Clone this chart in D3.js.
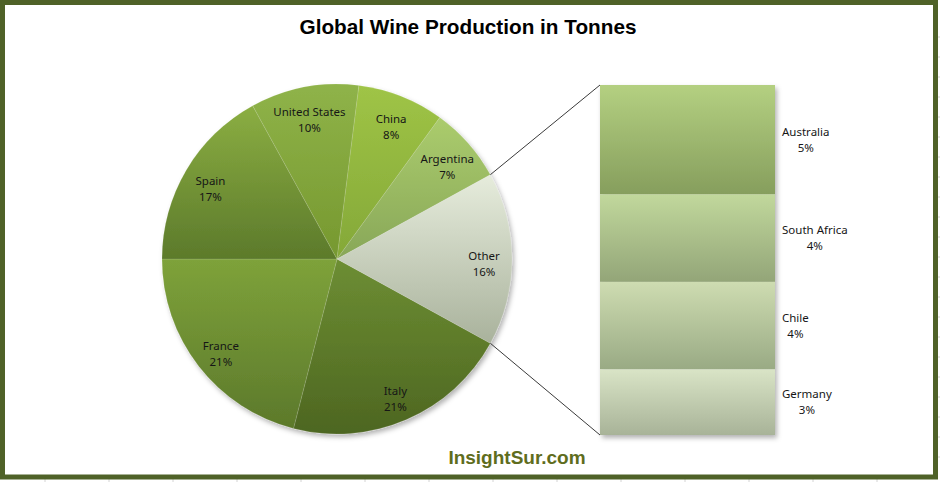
<!DOCTYPE html>
<html>
<head>
<meta charset="utf-8">
<script src="https://cdn.jsdelivr.net/npm/d3@7/dist/d3.min.js"></script>
<style>
    body { margin: 0; background: #fff; }
    svg { display: block; }
    .lbl { font-family: "Noto Sans", "Liberation Sans", sans-serif; font-size: 11.5px; fill: #161616; }
</style>
</head>
<body>
<svg id="chart" width="940" height="482"></svg>
<script>
// pie slices, clockwise starting after "Other"
const pieNames = ['Italy', 'France', 'Spain', 'United States', 'China', 'Argentina', 'Other'];
const pieValues = [21, 21, 17, 10, 8, 7, 16];

// breakdown of "Other" (stacked bar, top to bottom)
const otherNames = ['Australia', 'South Africa', 'Chile', 'Germany'];
const otherValues = [5, 4, 4, 3];

const titleText = 'Global Wine Production in Tonnes';
const footerText = 'InsightSur.com';

// top / bottom colours of each gradient
const sliceColors = {
    'Italy': ['#6d8e33', '#4d6621'],
    'France': ['#7ea23a', '#5c792b'],
    'Spain': ['#8bae42', '#5c7a2b'],
    'United States': ['#8fb349', '#76982f'],
    'China': ['#9fc446', '#84a838'],
    'Argentina': ['#abcc6d', '#88a758'],
    'Other': ['#e6ecdc', '#a9b29c']
};
const barColors = {
    'Australia': ['#b4d081', '#869e5d'],
    'South Africa': ['#c1d89c', '#93a578'],
    'Chile': ['#cedcb1', '#99aa84'],
    'Germany': ['#d9e4c6', '#a8b398']
};

const width = 940, height = 482;
const frameColor = '#4f6228';

const svg = d3.select('#chart');
const defs = svg.append('defs');

function addGradient(id, colors) {
    const g = defs.append('linearGradient')
        .attr('id', id)
        .attr('x1', 0).attr('y1', 0)
        .attr('x2', 0).attr('y2', 1);
    g.append('stop').attr('offset', '0%').attr('stop-color', colors[0]);
    g.append('stop').attr('offset', '100%').attr('stop-color', colors[1]);
}

const shadow = defs.append('filter').attr('id', 'shadow')
    .attr('x', '-10%').attr('y', '-10%').attr('width', '125%').attr('height', '125%');
shadow.append('feDropShadow')
    .attr('dx', 2).attr('dy', 3).attr('stdDeviation', 2.5)
    .attr('flood-color', '#000').attr('flood-opacity', 0.3);

svg.append('rect').attr('width', width).attr('height', height).attr('fill', '#fff');

// faint sheet gridline stubs outside the frame
const gridX = d3.range(45, width, 64);
const gridY = d3.range(37, 470, 20);
svg.append('g').selectAll('line').data(gridX).enter().append('line')
    .attr('x1', d => d).attr('x2', d => d)
    .attr('y1', 479).attr('y2', height)
    .attr('stroke', '#d4d4d4');
svg.append('g').selectAll('line').data(gridY).enter().append('line')
    .attr('x1', 938).attr('x2', width)
    .attr('y1', d => d).attr('y2', d => d)
    .attr('stroke', '#d4d4d4');

svg.append('rect')
    .attr('x', 2.5).attr('y', 2.5)
    .attr('width', 933).attr('height', 474.5)
    .attr('fill', '#fff')
    .attr('stroke', frameColor)
    .attr('stroke-width', 5);

svg.append('text')
    .attr('x', 468).attr('y', 34)
    .attr('text-anchor', 'middle')
    .attr('textLength', 337)
    .attr('lengthAdjust', 'spacingAndGlyphs')
    .style('font-family', '"Liberation Sans", Arial, sans-serif')
    .style('font-weight', 'bold')
    .style('font-size', '21px')
    .attr('fill', '#000')
    .text(titleText);

// ---- pie ----
const cx = 337, cy = 259, radius = 175;
const otherIdx = pieNames.indexOf('Other');
const total = d3.sum(pieValues);
const otherSpan = pieValues[otherIdx] / total * 2 * Math.PI;
// place "Other" centred on 3 o'clock; it is the last slice
const startAngle = Math.PI / 2 + otherSpan / 2;

const pie = d3.pie().sort(null).value(d => d)
    .startAngle(startAngle).endAngle(startAngle + 2 * Math.PI);
const arcs = pie(pieValues);
const arc = d3.arc().innerRadius(0).outerRadius(radius);
const labelArc = d3.arc().innerRadius(radius * 0.84).outerRadius(radius * 0.84);

pieNames.forEach((n, i) => addGradient('pg' + i, sliceColors[n]));

const pieG = svg.append('g').attr('transform', `translate(${cx},${cy})`);
pieG.append('g').attr('filter', 'url(#shadow)')
    .selectAll('path').data(arcs).enter().append('path')
    .attr('d', arc)
    .attr('fill', (d, i) => `url(#pg${i})`)
    .attr('stroke', 'rgba(255,255,255,0.15)')
    .attr('stroke-width', 0.8);

const fmt = v => Math.round(v / total * 100) + '%';
const pieLabels = pieG.selectAll('text.lbl').data(arcs).enter().append('text')
    .attr('class', 'lbl')
    .attr('text-anchor', 'middle')
    .attr('transform', d => {
        const c = labelArc.centroid(d);
        return `translate(${c[0]},${c[1]})`;
    });
pieLabels.append('tspan').attr('x', 0).attr('y', 1).text((d, i) => pieNames[i]);
pieLabels.append('tspan').attr('x', 0).attr('y', 17).text(d => fmt(d.value));

// ---- stacked bar for "Other" ----
const barX = 600, barW = 175;
const barTop = 85, barBottom = 435;
const y = d3.scaleLinear().domain([0, d3.sum(otherValues)]).range([barTop, barBottom]);
const stacked = [];
let acc = 0;
otherValues.forEach((v, i) => {
    stacked.push({ name: otherNames[i], value: v, y0: acc, y1: acc + v });
    acc += v;
});
otherNames.forEach((n, i) => addGradient('bg' + i, barColors[n]));

// connector lines from the "Other" slice edges to the bar corners
const oa = arcs[otherIdx];
const edgePt = a => [cx + radius * Math.sin(a), cy - radius * Math.cos(a)];
const p0 = edgePt(oa.startAngle), p1 = edgePt(oa.endAngle);
svg.append('line')
    .attr('x1', p0[0]).attr('y1', p0[1]).attr('x2', barX).attr('y2', y(0))
    .attr('stroke', '#3a3a3a').attr('stroke-width', 1);
svg.append('line')
    .attr('x1', p1[0]).attr('y1', p1[1]).attr('x2', barX).attr('y2', y(acc))
    .attr('stroke', '#3a3a3a').attr('stroke-width', 1);

svg.append('g').attr('filter', 'url(#shadow)')
    .selectAll('rect').data(stacked).enter().append('rect')
    .attr('x', barX).attr('width', barW)
    .attr('y', d => y(d.y0))
    .attr('height', d => y(d.y1) - y(d.y0))
    .attr('fill', (d, i) => `url(#bg${i})`);

const barLabels = svg.append('g').selectAll('text').data(stacked).enter().append('text')
    .attr('class', 'lbl')
    .attr('text-anchor', 'middle');
barLabels.append('tspan').attr('class', 'nm').text(d => d.name);
barLabels.append('tspan').attr('class', 'pc').text(d => fmt(d.value));
barLabels.each(function(d) {
    const t = d3.select(this);
    const w = t.select('.nm').node().getComputedTextLength();
    const mx = barX + barW + 7 + w / 2;
    const my = (y(d.y0) + y(d.y1)) / 2;
    t.select('.nm').attr('x', mx).attr('y', my - 4);
    t.select('.pc').attr('x', mx).attr('y', my + 12);
});

svg.append('text')
    .attr('x', 517).attr('y', 464)
    .attr('text-anchor', 'middle')
    .style('font-family', '"Liberation Sans", Arial, sans-serif')
    .style('font-weight', 'bold')
    .style('font-size', '19px')
    .attr('fill', '#5f6d1d')
    .text(footerText);
</script>
</body>
</html>
